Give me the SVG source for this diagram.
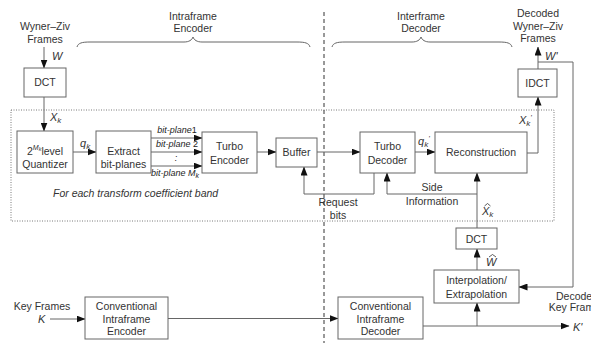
<svg xmlns="http://www.w3.org/2000/svg" width="591" height="343" viewBox="0 0 591 343">
<defs>
<marker id="ah" markerWidth="9" markerHeight="7" refX="8.5" refY="3.5" orient="auto" markerUnits="userSpaceOnUse">
<path d="M0,0 L9,3.5 L0,7 Z" fill="#111"/>
</marker>
<style>
.box{fill:#fff;stroke:#666;stroke-width:1}
.t{font-family:"Liberation Sans",Arial,sans-serif;font-size:10.5px;fill:#333;text-anchor:middle}
.i{font-family:"Liberation Sans",Arial,sans-serif;font-size:11px;fill:#333;font-style:italic}
.s{font-size:8px;font-style:italic}
.bp{font-family:"Liberation Sans",Arial,sans-serif;font-size:9px;fill:#222;font-style:italic;text-anchor:middle}
.ln{fill:none;stroke:#666;stroke-width:1}
.ar{fill:none;stroke:#666;stroke-width:1;marker-end:url(#ah)}
.hat{fill:none;stroke:#333;stroke-width:0.8}
</style>
</defs>
<rect width="591" height="343" fill="#fff"/>

<!-- frame regions -->
<rect x="11" y="110" width="543" height="111" fill="none" stroke="#555" stroke-width="0.8" stroke-dasharray="1,1.5"/>
<line x1="324" y1="12" x2="324" y2="343" stroke="#333" stroke-width="1" stroke-dasharray="4,3"/>

<!-- braces -->
<path class="ln" d="M77,47 C78,43 82,42 90,42 L184,42 C189,42 192,40 193,37 C194,40 197,42 202,42 L297,42 C305,42 309,43 310,47"/>
<path class="ln" d="M332,47 C333,43 337,42 345,42 L412,42 C417,42 420,40 421,37 C422,40 425,42 430,42 L499,42 C507,42 511,43 512,47"/>
<text class="t" x="193" y="20">Intraframe</text>
<text class="t" x="193" y="32">Encoder</text>
<text class="t" x="421" y="20">Interframe</text>
<text class="t" x="421" y="32">Decoder</text>

<text class="t" x="45" y="30">Wyner–Ziv</text>
<text class="t" x="45" y="43">Frames</text>
<text class="t" x="538" y="17">Decoded</text>
<text class="t" x="538" y="30">Wyner–Ziv</text>
<text class="t" x="538" y="42">Frames</text>
<text class="t" x="42" y="310">Key Frames</text>
<text class="t" x="577" y="300">Decoded</text>
<text class="t" x="577" y="311">Key Frames</text>

<text class="i" x="53" y="197" style="font-size:10.5px">For each transform coefficient band</text>

<!-- connectors -->
<g id="connectors">
<path class="ar" d="M44,47 V68"/>
<path class="ar" d="M44,97 V131"/>
<path class="ar" d="M73,152 H96"/>
<path class="ar" d="M151,138 H202"/>
<path class="ar" d="M151,152 H202"/>
<path class="ar" d="M151,166 H202"/>
<path class="ar" d="M257,152 H276"/>
<path class="ar" d="M317,152 H360"/>
<path class="ar" d="M374,173 V194 H304 V167"/>
<path class="ar" d="M415,152 H435"/>
<path class="ar" d="M477,228 V173"/>
<path class="ar" d="M477,194 H387 V173"/>
<path class="ar" d="M527,153 H538 V97"/>
<path class="ar" d="M538,69 V47"/>
<path class="ar" d="M538,62 H573 V287 H519"/>
<path class="ar" d="M477,270 V249"/>
<path class="ar" d="M423,326 H569"/>
<path class="ar" d="M477,326 V303"/>
<path class="ar" d="M50,319 H85"/>
<path class="ar" d="M168,318.5 H338"/>
</g>

<!-- labels -->
<text class="i" x="52" y="60">W</text>
<text class="i" x="50" y="121">X<tspan class="s" dy="2">k</tspan></text>
<text class="i" x="80" y="147">q<tspan class="s" dy="2">k</tspan></text>
<text class="bp" x="177" y="133">bit-plane<tspan style="font-style:normal">1</tspan></text>
<text class="bp" x="177" y="147">bit-plane <tspan style="font-style:normal">2</tspan></text>
<text class="bp" x="176" y="161">:</text>
<text class="bp" x="175" y="176">bit-plane M<tspan style="font-size:7px" dy="2">k</tspan></text>
<text class="t" x="338" y="206">Request</text>
<text class="t" x="338" y="219">bits</text>
<text class="i" x="418" y="145">q<tspan class="s" dy="2">k</tspan><tspan class="s" dy="-6">'</tspan></text>
<text class="t" x="432" y="191">Side</text>
<text class="t" x="432" y="205">Information</text>
<text class="i" x="482" y="215">X<tspan class="s" dy="2">k</tspan></text>
<path class="hat" d="M484.5,206 L487.5,203.5 L490.5,206"/>
<text class="i" x="519" y="124">X<tspan class="s" dy="2">k</tspan><tspan class="s" dy="-6">'</tspan></text>
<text class="i" x="545" y="60">W'</text>
<text class="i" x="486" y="266">W</text>
<path class="hat" d="M489,257 L492.5,254.5 L496,257"/>
<text class="i" x="38" y="323">K</text>
<text class="i" x="573" y="331">K'</text>

<!-- nodes -->
<g id="dct1"><rect class="box" x="24" y="68" width="42" height="29"/><text class="t" x="45" y="86">DCT</text></g>
<g id="quantizer"><rect class="box" x="17" y="131" width="56" height="42"/>
<text class="t" x="45" y="155">2<tspan style="font-size:7px;font-style:italic" dy="-5">M</tspan><tspan style="font-size:5.5px;font-style:italic" dy="1">k</tspan><tspan dy="4">level</tspan></text>
<text class="t" x="45" y="168">Quantizer</text></g>
<g id="extract"><rect class="box" x="96" y="131" width="55" height="42"/><text class="t" x="123.5" y="155">Extract</text><text class="t" x="123.5" y="168">bit-planes</text></g>
<g id="turboenc"><rect class="box" x="202" y="132" width="55" height="41"/><text class="t" x="229.5" y="150">Turbo</text><text class="t" x="229.5" y="164">Encoder</text></g>
<g id="buffer"><rect class="box" x="276" y="138" width="41" height="29"/><text class="t" x="296.5" y="156">Buffer</text></g>
<g id="turbodec"><rect class="box" x="360" y="132" width="55" height="41"/><text class="t" x="387.5" y="150">Turbo</text><text class="t" x="387.5" y="164">Decoder</text></g>
<g id="recon"><rect class="box" x="435" y="132" width="92" height="41"/><text class="t" x="481" y="156">Reconstruction</text></g>
<g id="idct"><rect class="box" x="518" y="69" width="39" height="28"/><text class="t" x="537.5" y="87">IDCT</text></g>
<g id="dct2"><rect class="box" x="456" y="228" width="41" height="21"/><text class="t" x="476.5" y="243">DCT</text></g>
<g id="interp"><rect class="box" x="434" y="270" width="85" height="33"/><text class="t" x="476.5" y="284">Interpolation/</text><text class="t" x="476.5" y="298">Extrapolation</text></g>
<g id="convenc"><rect class="box" x="85" y="297" width="83" height="42"/><text class="t" x="126.5" y="310">Conventional</text><text class="t" x="126.5" y="323">Intraframe</text><text class="t" x="126.5" y="335">Encoder</text></g>
<g id="convdec"><rect class="box" x="338" y="297" width="85" height="42"/><text class="t" x="380.5" y="310">Conventional</text><text class="t" x="380.5" y="323">Intraframe</text><text class="t" x="380.5" y="335">Decoder</text></g>
</svg>
